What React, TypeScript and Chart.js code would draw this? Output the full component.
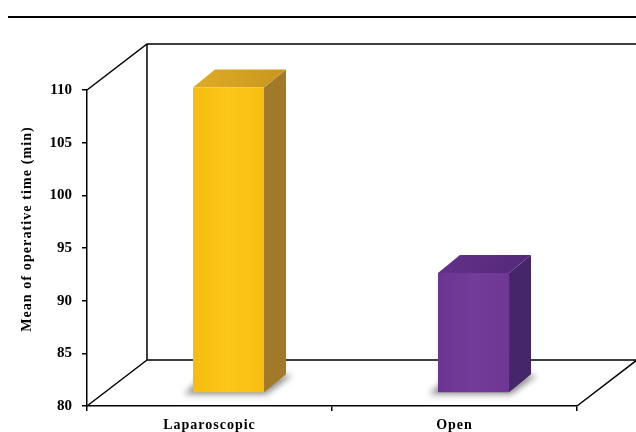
import React, { useEffect, useRef } from "react";
import { Chart, registerables } from "chart.js";

Chart.register(...registerables);

// Data
const categories = ["Laparoscopic", "Open"];
const meanOperativeTime = [109, 91.4];
const yTickMin = 80;
const yTickMax = 110;
const yTickStep = 5;
const yAxisTitle = "Mean of operative time (min)";

// Face colours of each 3D column
const frontColors = [
  ["#F6BB10", "#FCC718", "#F7BE12"],
  ["#6B3591", "#733B99", "#6E3794"],
];
const topColors = [
  ["#E0AC25", "#C8961F"],
  ["#62318A", "#552878"],
];
const sideColors = ["#A27929", "#46266A"];

const FONT = "'Liberation Serif', 'Times New Roman', serif";
// Oblique depth of the floor / walls
const DEPTH = { x: 60, y: -46 };
// Columns stand part way back on the floor
const BAR_SHIFT = { x: 19, y: -13 };
const BAR_DEPTH = { x: 22, y: -18 };

const box3d = {
  id: "box3d",
  beforeDraw(chart: any) {
    chart.ctx.letterSpacing = "0px";
  },
  beforeDatasetsDraw(chart: any) {
    const { ctx, chartArea: a, width } = chart;
    const bx = a.left + DEPTH.x;
    const ty = a.top + DEPTH.y;
    const by = a.bottom + DEPTH.y;
    ctx.save();
    ctx.strokeStyle = "#000";
    ctx.lineWidth = 1.5;
    ctx.beginPath();
    ctx.moveTo(a.left, a.top);
    ctx.lineTo(bx, ty);
    ctx.lineTo(width + 2, ty);
    ctx.moveTo(bx, ty);
    ctx.lineTo(bx, by);
    ctx.lineTo(width + 2, by);
    ctx.moveTo(a.left, a.bottom);
    ctx.lineTo(bx, by);
    ctx.moveTo(a.right, a.bottom);
    ctx.lineTo(a.right + DEPTH.x, by);
    ctx.stroke();
    ctx.restore();
  },
  afterDatasetsDraw(chart: any) {
    const { ctx } = chart;
    const meta = chart.getDatasetMeta(0);
    meta.data.forEach((el: any, i: number) => {
      const { x, y, base, width } = el.getProps(["x", "y", "base", "width"], true);
      const l = x - width / 2 + BAR_SHIFT.x;
      const r = x + width / 2 + BAR_SHIFT.x;
      const t = y + BAR_SHIFT.y;
      const b = base + BAR_SHIFT.y;
      const dx = BAR_DEPTH.x;
      const dy = BAR_DEPTH.y;

      ctx.save();
      // soft floor shadow
      ctx.filter = "blur(3px)";
      ctx.fillStyle = "rgba(0,0,0,0.45)";
      ctx.beginPath();
      ctx.moveTo(l - 9, b + 2);
      ctx.lineTo(r + 2, b + 2);
      ctx.lineTo(r + dx + 6, b + dy + 1);
      ctx.lineTo(l + dx - 9, b + dy);
      ctx.closePath();
      ctx.fill();
      ctx.filter = "none";

      // side face
      ctx.fillStyle = sideColors[i];
      ctx.beginPath();
      ctx.moveTo(r, t);
      ctx.lineTo(r + dx, t + dy);
      ctx.lineTo(r + dx, b + dy);
      ctx.lineTo(r, b);
      ctx.closePath();
      ctx.fill();

      // top face
      const tg = ctx.createLinearGradient(l, t + dy, r + dx, t);
      tg.addColorStop(0, topColors[i][0]);
      tg.addColorStop(1, topColors[i][1]);
      ctx.fillStyle = tg;
      ctx.beginPath();
      ctx.moveTo(l, t);
      ctx.lineTo(l + dx, t + dy);
      ctx.lineTo(r + dx, t + dy);
      ctx.lineTo(r, t);
      ctx.closePath();
      ctx.fill();

      // front face
      const fg = ctx.createLinearGradient(l, 0, r, 0);
      fg.addColorStop(0, frontColors[i][0]);
      fg.addColorStop(0.5, frontColors[i][1]);
      fg.addColorStop(1, frontColors[i][2]);
      ctx.fillStyle = fg;
      ctx.fillRect(l, t, r - l, b - t);
      ctx.restore();
    });
    // category labels that follow are set with wider tracking
    ctx.letterSpacing = "1px";
  },
  afterDraw(chart: any) {
    const { ctx, width } = chart;
    ctx.save();
    // rule across the top of the figure
    ctx.fillStyle = "#000";
    ctx.fillRect(8, 16, width - 8, 2);
    // y-axis title
    ctx.letterSpacing = "1.1px";
    ctx.font = `bold 14px ${FONT}`;
    ctx.textAlign = "center";
    ctx.textBaseline = "alphabetic";
    ctx.translate(31, 229);
    ctx.rotate(-Math.PI / 2);
    ctx.fillText(yAxisTitle, 0, 0);
    ctx.restore();
  },
};

export default function App() {
  const canvasRef = useRef<HTMLCanvasElement | null>(null);

  useEffect(() => {
    const canvas = canvasRef.current;
    if (!canvas) return;
    const chart = new Chart(canvas, {
      type: "bar",
      data: {
        labels: categories,
        datasets: [
          {
            data: meanOperativeTime,
            base: yTickMin,
            backgroundColor: "rgba(0,0,0,0)",
            borderWidth: 0,
            barPercentage: 0.29,
            categoryPercentage: 1,
          },
        ],
      },
      options: {
        responsive: false,
        devicePixelRatio: 1,
        animation: false,
        events: [],
        layout: { padding: { left: 0, top: 90, right: 59, bottom: 0 } },
        plugins: {
          legend: { display: false },
          tooltip: { enabled: false },
          title: { display: false },
        },
        scales: {
          x: {
            grid: {
              display: true,
              drawOnChartArea: false,
              drawTicks: true,
              tickLength: 5,
              color: "#000",
              lineWidth: 1.5,
              offset: true,
            },
            border: { display: true, color: "#000", width: 1.5 },
            ticks: {
              z: 1,
              color: "#000",
              font: { family: FONT, size: 14, weight: "bold" },
              padding: 6,
              maxRotation: 0,
              autoSkip: false,
            },
            afterFit(scale: any) {
              scale.height = 26;
            },
          },
          y: {
            min: yTickMin,
            max: yTickMax,
            grid: {
              display: true,
              drawOnChartArea: false,
              drawTicks: true,
              tickLength: 5,
              color: "#000",
              lineWidth: 1.5,
            },
            border: { display: true, color: "#000", width: 1.5 },
            ticks: {
              stepSize: yTickStep,
              color: "#000",
              font: { family: FONT, size: 15, weight: "bold" },
              padding: 10,
            },
            afterFit(scale: any) {
              scale.width = 87;
            },
          },
        },
      },
      plugins: [box3d],
    });
    return () => chart.destroy();
  }, []);

  return (
    <div
      style={{
        position: "absolute",
        left: 0,
        top: 0,
        width: 636,
        height: 432,
        background: "#fff",
      }}
    >
      <canvas ref={canvasRef} width={636} height={432} />
    </div>
  );
}
